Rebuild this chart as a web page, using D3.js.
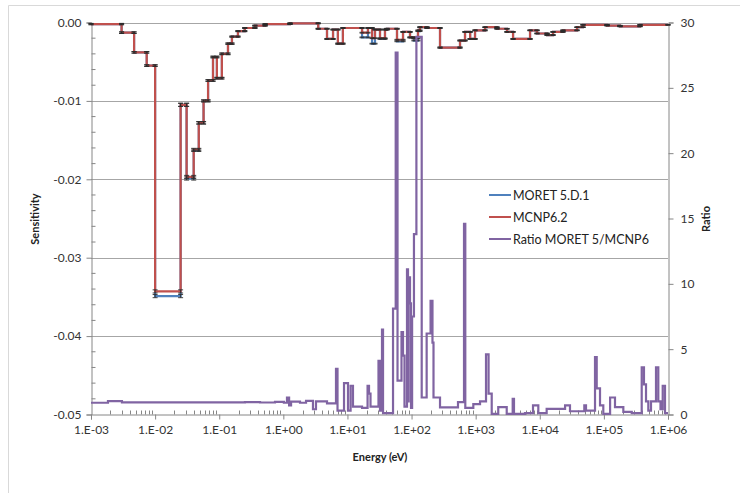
<!DOCTYPE html>
<html>
<head>
<meta charset="utf-8">
<script src="https://cdn.jsdelivr.net/npm/d3@7"></script>
<style>
  html, body { margin: 0; padding: 0; background: #ffffff; }
  svg { display: block; font-family: Lato, "Open Sans", "Liberation Sans", sans-serif; }
</style>
</head>
<body>
<svg id="chart" width="740" height="493"></svg>
<script>
// Energy group boundaries (eV) of the sensitivity profiles
const sensEdges = [
  1e-3, 3.0e-3, 4.7e-3, 7.4e-3, 1.0e-2, 2.5e-2, 3.1e-2, 4.0e-2, 4.8e-2, 5.7e-2,
  6.7e-2, 8.0e-2, 9.2e-2, 0.11, 0.137, 0.158, 0.196, 0.25, 0.36, 0.52,
  1.27, 3.5, 4.8, 5.96, 7.1, 8.5, 16.9, 20.9, 24.2, 26.9,
  32.2, 38.5, 41.4, 59.3, 73.6, 94.6, 109, 126, 135, 174,
  278, 570, 682, 820, 977, 1400, 2150, 3080, 3830, 7050,
  9060, 1.3e4, 1.61e4, 2.3e4, 3.81e4, 4.72e4, 1.12e5, 1.78e5, 3.66e5, 1e6
];

// MCNP6.2 sensitivity per group
const mcnpSens = [
  -0.0002, -0.0013, -0.0038, -0.0055, -0.0343, -0.0105, -0.0197, -0.0162, -0.0128, -0.0100,
  -0.0074, -0.0044, -0.0071, -0.0040, -0.0027, -0.0018, -0.0011, -0.0007, -0.0004, -0.0002,
  -0.0001, -0.0008, -0.0021, -0.0009, -0.0027, -0.0007, -0.0013, -0.0007, -0.0020, -0.0009,
  -0.0020, -0.0009, -0.0008, -0.0022, -0.0012, -0.0019, -0.0020, -0.0010, -0.0006, -0.0007,
  -0.0032, -0.0023, -0.0012, -0.0021, -0.0010, -0.0006, -0.0008, -0.0012, -0.0021, -0.0010,
  -0.0014, -0.0016, -0.0012, -0.0010, -0.0006, -0.0003, -0.0004, -0.0005, -0.0003
];

// MORET 5.D.1 sensitivity per group
const moretSens = [
  -0.0002, -0.0013, -0.0038, -0.0055, -0.0349, -0.0105, -0.0199, -0.0163, -0.0128, -0.0100,
  -0.0074, -0.0044, -0.0071, -0.0040, -0.0027, -0.0018, -0.0011, -0.0007, -0.0004, -0.0002,
  -0.0001, -0.0008, -0.0021, -0.0009, -0.0027, -0.0007, -0.0019, -0.0007, -0.0027, -0.0009,
  -0.0021, -0.0009, -0.0008, -0.0024, -0.0012, -0.0019, -0.0023, -0.0011, -0.0006, -0.0007,
  -0.0032, -0.0023, -0.0012, -0.0021, -0.0010, -0.0006, -0.0008, -0.0012, -0.0021, -0.0010,
  -0.0014, -0.0016, -0.0012, -0.0010, -0.0006, -0.0003, -0.0004, -0.0005, -0.0003
];

// One-sigma statistical uncertainty per group
const sensErr = [
  0.00008, 0.0001, 0.0001, 0.0001, 0.0002, 0.0002, 0.0002, 0.00015, 0.00015, 0.00012,
  0.0001, 0.0001, 0.0001, 0.0001, 0.00008, 0.00006, 0.00006, 0.00005, 0.00005, 0.00005,
  0.00005, 0.00005, 0.00006, 0.00005, 0.00006, 0.00005, 0.00005, 0.00005, 0.00005, 0.00005,
  0.00005, 0.00005, 0.00005, 0.00005, 0.00005, 0.00005, 0.00005, 0.00005, 0.00005, 0.00005,
  0.00006, 0.00005, 0.00005, 0.00005, 0.00005, 0.00004, 0.00004, 0.00004, 0.00005, 0.00004,
  0.00004, 0.00004, 0.00004, 0.00004, 0.00003, 0.00003, 0.00003, 0.00003, 0.00003
];

// Energy boundaries (eV) of the ratio curve
const ratioEdges = [
  1e-3, 1.84e-3, 3.04e-3, 0.252, 0.433, 0.741, 1.02, 1.14, 1.23, 1.32,
  1.82, 2.26, 2.90, 3.23, 4.80, 6.63, 7.00, 8.84, 10.2, 11.2,
  12.2, 16.9, 20.6, 21.7, 22.9, 30.5, 32.2, 34.6, 35.9, 51.4,
  56.6, 60.4, 69.7, 73.6, 77.6, 84.9, 88.0, 90.0, 94.6, 98.0,
  102, 109, 119, 144, 172, 198, 212, 220, 278, 530,
  658, 689, 919, 1170, 1450, 1590, 1780, 2250, 3050, 3780,
  3960, 5880, 7840, 9490, 1.28e4, 2.48e4, 2.96e4, 4.95e4, 5.26e4, 7.27e4,
  7.73e4, 8.70e4, 9.79e4, 1.25e5, 1.49e5, 2.01e5, 2.72e5, 3.89e5, 4.22e5, 4.54e5,
  4.93e5, 5.43e5, 6.50e5, 7.06e5, 7.64e5, 8.27e5, 8.98e5, 1e6
];

// Ratio MORET 5 / MCNP6 per interval
const ratioValues = [
  0.90, 1.02, 0.93, 0.95, 0.92, 0.97, 0.90, 1.30, 0.70, 0.98,
  0.90, 1.05, 0.40, 1.00, 0.85, 3.5, 0.3, 2.4, 0.3, 2.2,
  0.6, 0.5, 2.2, 1.6, 0.6, 4.1, 0.3, 6.5, 0.1, 8.1,
  27.7, 2.6, 6.3, 4.5, 0.6, 11.1, 1.0, 10.5, 8.5, 0.5,
  7.5, 13.8, 28.9, 1.3, 6.2, 8.7, 5.5, 1.3, 0.55, 0.94,
  14.6, 0.5, 0.8, 1.0, 4.6, 1.6, 0.05, 0.56, 0.05, 1.2,
  0.05, 0.1, 0.7, 0.1, 0.43, 0.7, 0.25, 0.7, 0.3, 4.4,
  2.0, 0.7, 0.05, 1.3, 0.56, 0.2, 0.1, 3.6, 2.3, 1.0,
  0.3, 1.0, 3.6, 1.0, 0.4, 2.2, 0.1
];

const xTickValues = [1e-3, 1e-2, 1e-1, 1e0, 1e1, 1e2, 1e3, 1e4, 1e5, 1e6];
const xTickLabels = ["1.E-03", "1.E-02", "1.E-01", "1.E+00", "1.E+01", "1.E+02", "1.E+03", "1.E+04", "1.E+05", "1.E+06"];
const sensTicks = [0, -0.01, -0.02, -0.03, -0.04, -0.05];
const sensTickLabels = ["0.00", "-0.01", "-0.02", "-0.03", "-0.04", "-0.05"];
const ratioTicks = [0, 5, 10, 15, 20, 25, 30];
const seriesNames = ["MORET 5.D.1", "MCNP6.2", "Ratio MORET 5/MCNP6"];
const seriesColors = ["#4f81bd", "#c0504d", "#8064a2"];

const svg = d3.select("#chart");
const plot = { left: 91, right: 668, top: 22.5, bottom: 414.5 };

const x = d3.scaleLog().domain([1e-3, 1e6]).range([plot.left, plot.right]);
const ySens = d3.scaleLinear().domain([-0.05, 0]).range([plot.bottom, plot.top]);
const yRatio = d3.scaleLinear().domain([0, 30]).range([plot.bottom, plot.top]);

// outer chart frame
svg.append("path")
  .attr("d", "M8.5,500 V5.5 H750")
  .attr("fill", "none").attr("stroke", "#d9d9d9").attr("stroke-width", 1);

// horizontal gridlines on the sensitivity axis
svg.append("g")
  .selectAll("line")
  .data(sensTicks.filter(v => v !== -0.05))
  .join("line")
  .attr("x1", plot.left).attr("x2", plot.right)
  .attr("y1", d => Math.round(ySens(d)) + 0.5).attr("y2", d => Math.round(ySens(d)) + 0.5)
  .attr("stroke", "#a6a6a6").attr("stroke-width", 1);

// left axis: major ticks outside, minor ticks inside
const leftAxis = svg.append("g").attr("transform", `translate(${plot.left + 0.5},0)`);
leftAxis.call(d3.axisLeft(ySens).tickValues(sensTicks).tickFormat((d, i) => sensTickLabels[i]).tickSize(5).tickPadding(5))
  .call(g => g.select(".domain").attr("stroke", "#868686"))
  .call(g => g.selectAll(".tick line").attr("stroke", "#868686"))
  .call(g => g.selectAll(".tick text").attr("font-size", 12).attr("fill", "#333").attr("font-family", "Lato, sans-serif"));
const sensMinor = d3.range(0, 26).map(i => -0.002 * i).filter(v => Math.abs(v / 0.01 - Math.round(v / 0.01)) > 1e-6);
leftAxis.selectAll("line.minor").data(sensMinor).join("line").attr("class", "minor")
  .attr("x1", 0).attr("x2", 4)
  .attr("y1", d => ySens(d)).attr("y2", d => ySens(d))
  .attr("stroke", "#868686");

// right axis for the ratio
const rightAxis = svg.append("g").attr("transform", `translate(${plot.right + 0.5},0)`);
rightAxis.call(d3.axisRight(yRatio).tickValues(ratioTicks).tickSize(5).tickPadding(7))
  .call(g => g.select(".domain").attr("stroke", "#868686"))
  .call(g => g.selectAll(".tick line").attr("stroke", "#868686"))
  .call(g => g.selectAll(".tick text").attr("font-size", 12).attr("fill", "#333").attr("font-family", "Lato, sans-serif"));

// bottom energy axis
const bottomAxis = svg.append("g").attr("transform", `translate(0,${plot.bottom})`);
bottomAxis.call(d3.axisBottom(x).tickValues(xTickValues).tickFormat((d, i) => xTickLabels[i]).tickSize(5).tickPadding(6))
  .call(g => g.select(".domain").attr("stroke", "#868686"))
  .call(g => g.selectAll(".tick line").attr("stroke", "#868686"))
  .call(g => g.selectAll(".tick text").attr("font-size", 12).attr("fill", "#333").attr("font-family", "Lato, sans-serif"));
const xMinor = [];
for (let k = -3; k < 6; k++) for (let m = 2; m <= 9; m++) xMinor.push(m * Math.pow(10, k));
bottomAxis.selectAll("line.minor").data(xMinor).join("line").attr("class", "minor")
  .attr("x1", d => Math.round(x(d)) + 0.5).attr("x2", d => Math.round(x(d)) + 0.5)
  .attr("y1", 0).attr("y2", -4)
  .attr("stroke", "#868686");

// axis titles
svg.append("text").attr("x", 380).attr("y", 461).attr("text-anchor", "middle")
  .attr("font-size", 11).attr("font-weight", "bold").attr("fill", "#222").text("Energy (eV)");
svg.append("text").attr("transform", "translate(39,219) rotate(-90)").attr("text-anchor", "middle")
  .attr("font-size", 11).attr("font-weight", "bold").attr("fill", "#222").text("Sensitivity");
svg.append("text").attr("transform", "translate(710,219) rotate(-90)").attr("text-anchor", "middle")
  .attr("font-size", 11).attr("font-weight", "bold").attr("fill", "#222").text("Ratio");

// step profiles: each group is a horizontal segment between its two boundaries
function stepPoints(edges, values) {
  const pts = values.map((v, i) => [edges[i], v]);
  pts.push([edges[edges.length - 1], values[values.length - 1]]);
  return pts;
}
const sensLine = d3.line().x(d => x(d[0])).y(d => ySens(d[1])).curve(d3.curveStepAfter);
const ratioLine = d3.line().x(d => x(d[0])).y(d => yRatio(d[1])).curve(d3.curveStepAfter);

svg.append("path").datum(stepPoints(sensEdges, moretSens))
  .attr("d", sensLine).attr("fill", "none").attr("stroke", seriesColors[0]).attr("stroke-width", 2.2);
svg.append("path").datum(stepPoints(sensEdges, mcnpSens))
  .attr("d", sensLine).attr("fill", "none").attr("stroke", seriesColors[1]).attr("stroke-width", 2.2);

// error bars at both ends of every group segment
function errorBars(values) {
  const bars = [];
  values.forEach((v, i) => {
    bars.push({ e: sensEdges[i], v, err: sensErr[i] });
    bars.push({ e: sensEdges[i + 1], v, err: sensErr[i] });
  });
  return bars;
}
const eb = svg.append("g").attr("stroke", "#2b2b2b").attr("stroke-width", 0.9);
[moretSens, mcnpSens].forEach(vals => {
  const g = eb.append("g");
  const bars = errorBars(vals);
  g.selectAll("line.v").data(bars).join("line").attr("class", "v")
    .attr("x1", d => x(d.e)).attr("x2", d => x(d.e))
    .attr("y1", d => ySens(d.v - d.err)).attr("y2", d => ySens(d.v + d.err));
  g.selectAll("line.lo").data(bars).join("line").attr("class", "lo")
    .attr("x1", d => x(d.e) - 2.5).attr("x2", d => x(d.e) + 2.5)
    .attr("y1", d => ySens(d.v - d.err)).attr("y2", d => ySens(d.v - d.err));
  g.selectAll("line.hi").data(bars).join("line").attr("class", "hi")
    .attr("x1", d => x(d.e) - 2.5).attr("x2", d => x(d.e) + 2.5)
    .attr("y1", d => ySens(d.v + d.err)).attr("y2", d => ySens(d.v + d.err));
});

// ratio on the secondary axis
svg.append("path").datum(stepPoints(ratioEdges, ratioValues))
  .attr("d", ratioLine).attr("fill", "none").attr("stroke", seriesColors[2])
  .attr("stroke-width", 2.2).attr("stroke-linejoin", "miter");

// legend
const legend = svg.append("g");
seriesNames.forEach((name, i) => {
  const yy = 195 + i * 22;
  legend.append("line").attr("x1", 489).attr("x2", 511).attr("y1", yy).attr("y2", yy)
    .attr("stroke", seriesColors[i]).attr("stroke-width", 2);
  legend.append("text").attr("x", 513).attr("y", yy + 4.5)
    .attr("font-size", 12.5).attr("fill", "#222").text(name);
});
</script>
</body>
</html>
